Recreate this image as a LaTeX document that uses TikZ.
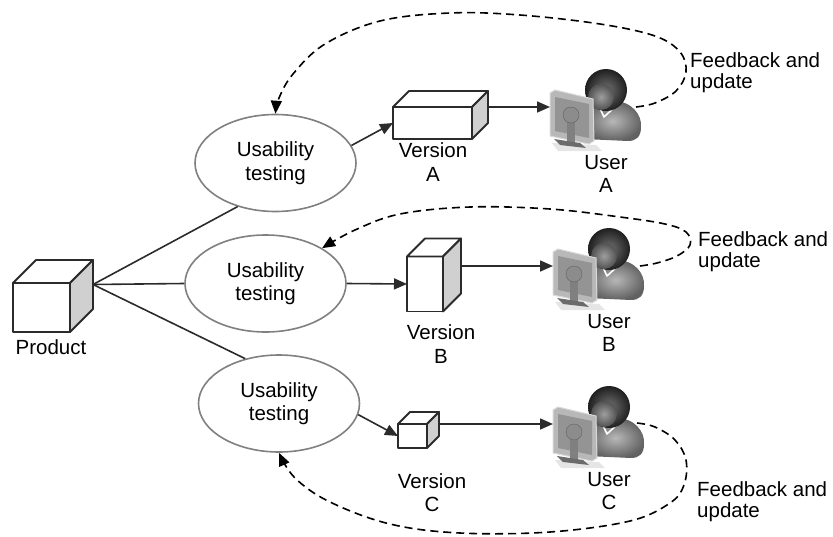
\documentclass[tikz,border=0pt]{standalone}
\usepackage{fontspec}
\setmainfont{Liberation Sans}
\usetikzlibrary{arrows.meta,shapes.geometric,calc}

\definecolor{ink}{HTML}{2B2B2B}
\definecolor{rim}{HTML}{808080}
\definecolor{sideface}{HTML}{D0D0D0}

\tikzset{
  lbl/.style={font=\fontsize{20.5}{23.5}\selectfont, align=center, inner sep=0pt},
  note/.style={font=\fontsize{20.5}{21}\selectfont, align=left, inner sep=0pt, anchor=west},
  testbox/.style={ellipse, draw=rim, line width=1.6pt, fill=white,
    minimum width=161pt, minimum height=97pt, inner sep=0pt, lbl},
  link/.style={draw=ink, line width=1.6pt},
  flow/.style={link, -{Triangle[length=13pt,width=11pt]}},
  loopback/.style={draw=black, line width=1.6pt, dash pattern=on 8pt off 5pt,
    -{Triangle[length=13pt,width=11pt]}},
  facet/.style={draw=ink, line width=1.8pt, line join=round},
  % person seated at a computer, origin = left edge of the screen at arrow height
  user/.pic={
    \fill[black!10] (2,36) -- (46,38) -- (52,44) -- (8,44) -- cycle;
    \shade[inner color=black!28, outer color=black!62]
      (34,32) .. controls (33,4) and (46,-6) .. (63,-6)
      .. controls (82,-6) and (92,8) .. (91,20)
      .. controls (91,30) and (86,34) .. (78,34) -- cycle;
    \draw[white, line width=1.6pt, line join=round] (47,-5) -- (54,10) -- (68,-3);
    \shade[inner color=black!55, outer color=black!88] (56,-17) circle [radius=21];
    \shade[inner color=black!38, outer color=black!68] (51,-10) circle [radius=13];
    \filldraw[fill=black!28, draw=black!15, line width=1pt]
      (0,-14) -- (5,-17) -- (43,-8) -- (44,34) -- (39,37) -- (0,29) -- cycle;
    \fill[black!42] (5,-10) -- (39,-3) -- (39,31) -- (5,24) -- cycle;
    \fill[black!50] (17,12) rectangle (25,36);
    \filldraw[fill=black!45, draw=black!62] (21,8) circle [radius=8];
    \fill[black!58] (4,32) -- (30,36) -- (36,41) -- (10,38) -- cycle;
  }
}

% box drawn as front face plus top and right faces; #1 name, #2 centre, #3 width, #4 height, #5 depth
\newcommand\boxcube[5]{%
  \node[facet, fill=white, minimum width=#3pt, minimum height=#4pt,
        inner sep=0pt, outer sep=0pt] (#1) at (#2) {};
  \filldraw[facet, fill=white] (#1.north west) -- ++(#5,-#5) -- ++(#3,0)
    -- (#1.north east) -- cycle;
  \filldraw[facet, fill=sideface] (#1.north east) -- ++(#5,-#5) -- ++(0,#4)
    -- (#1.south east) -- cycle;
  \coordinate (#1-r) at ($(#1.east)+(#5,-#5)$);
}

\begin{document}
\begin{tikzpicture}[x=1pt,y=-1pt]
\useasboundingbox (0,0) rectangle (833,536);

% product and its variants
\boxcube{P}{41.5,307.5}{57}{49}{23}
\node[lbl] (Pl) at (51,347.5) {Product};

\node[testbox] (eA) at (275.5,163) {Usability\\testing};
\node[testbox] (eB) at (265.5,283.5) {Usability\\testing};
\node[testbox] (eC) at (279,403.5) {Usability\\testing};

\draw[link] (P-r) -- (eA.229);
\draw[link] (P-r) -- (eB.west);
\draw[link] (P-r) -- (eC.127);

\boxcube{vA}{432.5,123}{79}{32}{16}
\boxcube{vB}{425,284}{36}{55}{18}
\boxcube{vC}{412.5,436}{29}{24}{12}

\node[lbl] (vAl) at (433,162) {Version\\A};
\node[lbl] (vBl) at (441,344) {Version\\B};
\node[lbl] (vCl) at (432,492.5) {Version\\C};

\draw[flow] (eA.13) -- (vA.west);
\draw[flow] (eB.east) -- (vB.west);
\draw[flow] (eC.-8) -- (vC.west);

% users
\coordinate (uA) at (550,107);
\coordinate (uB) at (553,266);
\coordinate (uC) at (553,424);
\pic at (uA) {user};
\pic at (uB) {user};
\pic at (uC) {user};

\node[lbl] (uAl) at ($(uA)+(56,67)$) {User\\A};
\node[lbl] (uBl) at ($(uB)+(56,67)$) {User\\B};
\node[lbl] (uCl) at ($(uC)+(56,67)$) {User\\C};

\draw[flow] (vA-r) -- (uA);
\draw[flow] (vB-r) -- (uB);
\draw[flow] (vC-r) -- (uC);

% feedback loops
\coordinate (uAfb) at ($(uA)+(86,0)$);
\coordinate (uBfb) at ($(uB)+(87,0)$);
\coordinate (uCfb) at ($(uC)+(84,-1)$);

\draw[loopback] plot[smooth, tension=0.6] coordinates {(uAfb) (655,103) (676,91)
  (686,72) (680,52) (655,36) (600,24) (520,15) (450,13) (380,21) (325,44)
  (293,74) (279,98) (eA.north)};
\draw[loopback] plot[smooth, tension=0.6] coordinates {(uBfb) (657,263) (677,256)
  (690,245) (686,232) (665,224) (620,217) (550,209) (470,207) (400,214)
  (355,230) (eB.32)};
\draw[loopback] plot[smooth, tension=0.6] coordinates {(uCfb) (655,427) (675,440)
  (686,460) (684,485) (670,503) (630,521) (550,532) (460,533) (390,524)
  (330,502) (295,478) (eC.south)};

\node[note] (fA) at (690,73) {Feedback and\\update};
\node[note] (fB) at (698,252) {Feedback and\\update};
\node[note] (fC) at (697,502) {Feedback and\\update};
\end{tikzpicture}
\end{document}
